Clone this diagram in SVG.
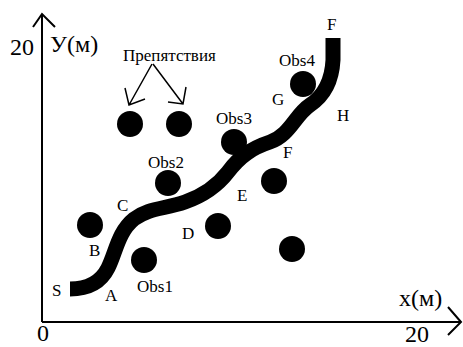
<svg xmlns="http://www.w3.org/2000/svg" width="463" height="347" viewBox="0 0 463 347">
<style>
text{font-family:"Liberation Serif","Times New Roman",serif;fill:#000}
.lbl{font-size:17px}
.ax{font-size:24px}
.obs{fill:#000}
.axis{stroke:#000;stroke-width:2;fill:none}
.arr{stroke:#000;stroke-width:1.5;fill:none}
</style>
<rect width="463" height="347" fill="#fff"/>
<g id="axes">
<path class="axis" d="M42,322 V14 M33,27 L42,14 L55,27"/>
<path class="axis" d="M42,322 H461 M448,307 L461,322 L448,335"/>
<text class="ax" x="10" y="55">20</text>
<text class="ax" x="50" y="52">У(м)</text>
<text class="ax" x="37" y="341">0</text>
<text class="ax" x="405" y="342">20</text>
<text class="ax" x="399" y="306">х(м)</text>
</g>
<g id="connectors">
<path id="route" d="M70,289 C85,289 100,284 108,268 C116,252 118,232 134,219 C148,208 165,209 185,202 C205,195 218,185 228,172 C240,156 252,148 270,142 C290,135 295,115 310,105 C325,95 332,80 333,60 L333,38" stroke="#000" stroke-width="15" fill="none"/>
<path class="arr" d="M152,64 L129,105 M125,88 L129,105 L145,99"/>
<path class="arr" d="M153,64 L183,104 M168,102 L183,104 L186,87"/>
</g>
<g id="obstacles-label"><text class="lbl" x="123" y="61">Препятствия</text></g>
<g id="obs-top1"><circle class="obs" cx="130" cy="124" r="13"/></g>
<g id="obs-top2"><circle class="obs" cx="179" cy="124" r="13"/></g>
<g id="obs2"><circle class="obs" cx="168" cy="183" r="13"/><text class="lbl" x="148" y="168">Obs2</text></g>
<g id="obs1"><circle class="obs" cx="144" cy="260" r="13"/><text class="lbl" x="137" y="292">Obs1</text></g>
<g id="obs-b"><circle class="obs" cx="90" cy="225" r="13"/></g>
<g id="obs-d"><circle class="obs" cx="218" cy="226" r="13"/></g>
<g id="obs-f"><circle class="obs" cx="274" cy="181" r="13"/></g>
<g id="obs-br"><circle class="obs" cx="292" cy="249" r="13"/></g>
<g id="obs3"><circle class="obs" cx="234" cy="142" r="13"/><text class="lbl" x="216" y="124">Obs3</text></g>
<g id="obs4"><circle class="obs" cx="303" cy="84" r="13"/><text class="lbl" x="279" y="66">Obs4</text></g>
<g id="points">
<text class="lbl" x="52" y="296">S</text>
<text class="lbl" x="105" y="301">A</text>
<text class="lbl" x="89" y="256">B</text>
<text class="lbl" x="117" y="211">C</text>
<text class="lbl" x="182" y="239">D</text>
<text class="lbl" x="237" y="201">E</text>
<text class="lbl" x="283" y="158">F</text>
<text class="lbl" x="272" y="105">G</text>
<text class="lbl" x="337" y="121">H</text>
<text class="lbl" x="327" y="30">F</text>
</g>
</svg>
